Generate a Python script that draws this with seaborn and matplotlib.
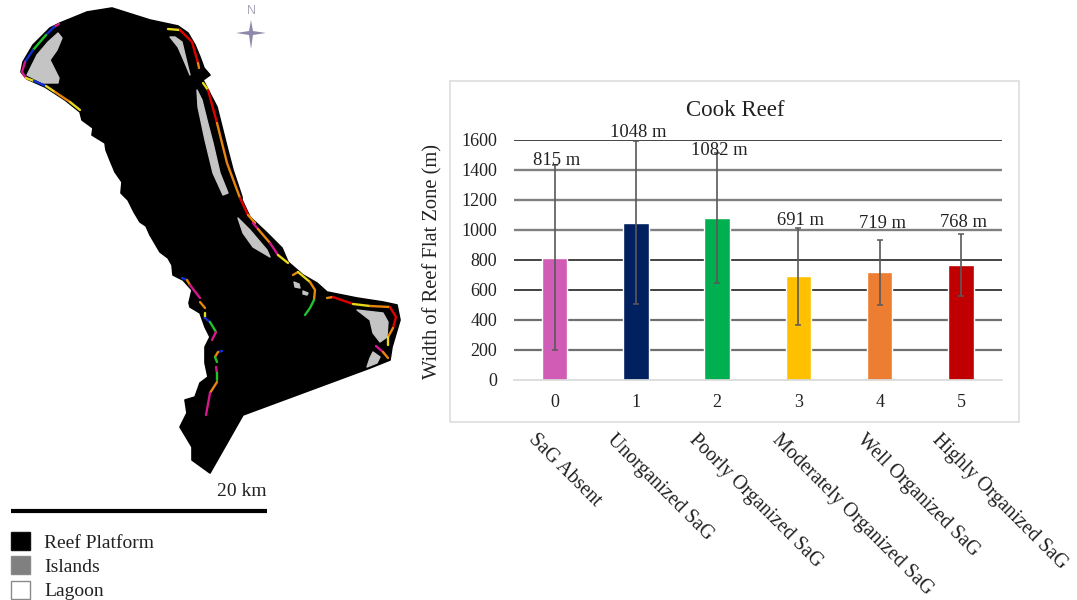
import matplotlib
matplotlib.use("Agg")
import matplotlib.pyplot as plt
from matplotlib.patches import Polygon, Rectangle
import numpy as np
import pandas as pd
import seaborn as sns

sns.set_theme(style="white")
plt.rcParams['font.family'] = ['Liberation Serif', 'DejaVu Serif']

# ---- chart data ----
levels = ["0", "1", "2", "3", "4", "5"]
names = ["SaG Absent", "Unorganized SaG", "Poorly Organized SaG",
         "Moderately Organized SaG", "Well Organized SaG", "Highly Organized SaG"]
widths = [815, 1048, 1082, 691, 719, 768]
err_low = [200, 505, 650, 365, 500, 560]
err_high = [1430, 1590, 1510, 1015, 935, 975]
bar_colors = ["#D05CB5", "#002060", "#00B050", "#FFC000", "#ED7D31", "#C00000"]
label_heights = [1461, 1653, 1528, 1061, 1041, 1048]
grid_values = [1600, 1400, 1200, 1000, 800, 600, 400, 200]
grid_colors = ["#111111", "#808080", "#808080", "#808080", "#111111", "#333333", "#707070", "#707070"]
grid_widths = [1.1, 1.7, 1.7, 1.7, 1.1, 1.3, 1.6, 1.6]
name_anchor_x = [531, 610, 692, 775, 860, 935]

# ---- map outlines, in picture pixels ----
platform = [(112,8),(87,12),(60,23),(50,28),(33,45),(23,62),(21,72),(27,79),(45,87),(65,100),(80,112),
            (82,120),(93,128),(92,135),(105,143),(106,150),(110,160),(115,172),(122,182),(121,193),(128,200),
            (134,212),(140,222),(146,226),(150,235),(160,252),(168,258),(172,265),(173,275),(183,280),(192,290),
            (189,303),(190,307),(200,313),(205,327),(210,337),(205,347),(205,363),(208,377),(200,383),(195,397),
            (185,400),(187,413),(180,427),(192,447),(192,460),(210,473),(243,415),(370,368),(390,360),(392,347),
            (400,320),(397,305),(383,302),(357,298),(327,292),(317,283),(303,275),(288,262),(282,248),(267,233),
            (250,217),(242,200),(242,197),(233,170),(227,147),(217,107),(203,80),(210,75),(204,68),(200,57),
            (195,45),(188,33),(178,26),(150,20)]
islands = [
    [(58,33),(62,38),(57,50),(50,60),(59,78),(58,83),(43,83),(27,75),(37,55),(48,42)],
    [(170,37),(175,37),(182,42),(187,63),(190,75),(185,63),(178,47)],
    [(197,90),(202,100),(207,120),(213,143),(220,173),(228,193),(223,195),(213,173),(205,140),(198,107)],
    [(238,218),(250,230),(267,250),(270,257),(253,247),(243,233)],
    [(357,310),(383,313),(388,322),(387,337),(380,342),(373,333),(370,320)],
    [(373,352),(380,357),(377,363),(367,367),(370,358)],
    [(294,282),(299,284),(300,288),(295,287)],
    [(303,291),(308,293),(307,295),(303,294)],
]
RED, ORANGE, YELLOW, MAGENTA, GREEN, BLUE = "#E00000", "#E8860C", "#E8D81A", "#D6178C", "#22C32A", "#1030D0"
reef_lines = [
    (MAGENTA, [(59,24),(54,27)]), (BLUE, [(54,27),(46,35)]), (GREEN, [(46,35),(33,50)]),
    (BLUE, [(33,50),(25,62)]), (MAGENTA, [(25,62),(22,72),(26,78)]), (YELLOW, [(26,78),(34,81)]),
    (BLUE, [(34,81),(46,86)]), (YELLOW, [(46,86),(55,92)]), (ORANGE, [(55,92),(70,102)]),
    (YELLOW, [(70,102),(80,110)]),
    (YELLOW, [(168,29),(180,30)]), (RED, [(180,30),(192,42),(198,63)]), (ORANGE, [(198,63),(199,68)]),
    (YELLOW, [(203,83),(208,90)]), (RED, [(208,90),(217,123)]), (ORANGE, [(217,123),(227,163),(240,198)]),
    (RED, [(240,198),(248,215)]), (ORANGE, [(248,215),(255,223)]), (MAGENTA, [(253,223),(258,229)]),
    (ORANGE, [(258,229),(270,243)]), (MAGENTA, [(270,243),(278,255)]), (YELLOW, [(278,255),(288,263)]),
    (ORANGE, [(293,275),(298,272)]), (YELLOW, [(298,272),(310,282)]), (ORANGE, [(310,282),(315,290),(314,300)]),
    (GREEN, [(314,300),(310,308),(305,315)]),
    (ORANGE, [(327,298),(333,297)]), (RED, [(333,297),(353,304)]), (YELLOW, [(353,304),(370,306)]),
    (ORANGE, [(370,306),(390,307)]), (RED, [(390,307),(396,317),(393,328)]), (ORANGE, [(393,328),(388,337)]),
    (YELLOW, [(388,337),(388,345)]), (MAGENTA, [(376,346),(383,352)]), (ORANGE, [(383,352),(388,358)]),
    (BLUE, [(182,278),(187,280)]), (ORANGE, [(187,280),(190,285)]), (MAGENTA, [(190,285),(200,298)]),
    (ORANGE, [(200,302),(205,308)]), (YELLOW, [(205,313),(205,318)]), (BLUE, [(205,318),(210,322)]),
    (GREEN, [(210,322),(216,332)]), (MAGENTA, [(216,332),(212,340)]),
    (BLUE, [(222,351),(218,352)]), (ORANGE, [(218,352),(215,357)]), (GREEN, [(215,357),(217,362)]),
    (MAGENTA, [(216,367),(217,373)]), (GREEN, [(217,373),(217,380)]), (ORANGE, [(217,382),(210,393)]),
    (MAGENTA, [(210,393),(206,415)]),
]
star = [(251,20),(253,31),(266,33),(253,35),(251,49),(249,35),(236,33),(249,31)]
legend_names = ["Reef Platform", "Islands", "Lagoon"]
legend_fills = ["#000000", "#808080", "#ffffff"]
legend_edges = ["#111111", "#8a8a8a", "#8a8a8a"]

# ---- figure ----
fig = plt.figure(figsize=(10.77, 6), dpi=100, facecolor="white")
W, H = 1077, 600

# pixel layer for the map, legend and chart frame
bg = fig.add_axes([0, 0, 1, 1])
bg.set_xlim(0, W); bg.set_ylim(H, 0); bg.axis("off")
bg.add_patch(Polygon(platform, closed=True, fc="black", ec="black", lw=1.2, joinstyle="round"))
for isl in islands:
    bg.add_patch(Polygon(isl, closed=True, fc="#C4C4C4", ec="#C4C4C4", lw=1.0, joinstyle="round"))
for col, pts in reef_lines:
    xs, ys = zip(*pts)
    bg.plot(xs, ys, color=col, lw=1.7, solid_capstyle="round")
bg.add_patch(Polygon(star, closed=True, fc="#8F88AB", ec="none"))
bg.text(251, 11, "N", color="#A9A9B5", fontsize=9, ha="center", va="center", family="Liberation Sans")
bg.plot([11, 267], [511, 511], color="black", lw=3, solid_capstyle="butt")
bg.text(267, 492, "20 km", fontsize=14, color="#222222", ha="right", va="center")
for i, (nm, fc, ec) in enumerate(zip(legend_names, legend_fills, legend_edges)):
    top = [532, 556, 581][i]
    bg.add_patch(Rectangle((11, top), 19, 18, fc=fc, ec=ec, lw=1))
    bg.text(44, top + 11, nm, fontsize=14, color="#222222", ha="left", va="center")
bg.add_patch(Rectangle((450, 81), 569, 341, fc="white", ec="#DDDDDD", lw=1.2))

# bar chart
ax = fig.add_axes([514 / W, 1 - 380 / H, (1001.5 - 514) / W, 240 / H])
ax.patch.set_alpha(0)
for v, c, lw in zip(grid_values, grid_colors, grid_widths):
    ax.axhline(v, color=c, lw=lw, zorder=0)
df = pd.DataFrame({"level": levels, "width": widths})
sns.barplot(data=df, x="level", y="width", hue="level", palette=bar_colors, legend=False,
            width=0.315, saturation=1, ax=ax, zorder=2)
pos = np.arange(len(levels))
ax.errorbar(pos, widths,
            yerr=[np.array(widths) - np.array(err_low), np.array(err_high) - np.array(widths)],
            fmt="none", ecolor="#595959", elinewidth=1.2, capsize=2.5, capthick=1.1, zorder=3)
for p, w, h in zip(pos, widths, label_heights):
    ax.text(p + 0.03, h, f"{w} m", fontsize=13.4, color="#222222", ha="center", va="center",
            zorder=4, clip_on=False)
ax.set_xlim(-0.5, 5.5)
ax.set_ylim(0, 1600)
ax.set_yticks(range(0, 1601, 200))
ax.set_xlabel(""); ax.set_ylabel("")
ax.tick_params(axis="both", labelsize=13, length=0, labelcolor="#222222")
ax.tick_params(axis="x", pad=10)
ax.tick_params(axis="y", pad=12)
for s in ["top", "left", "right"]:
    ax.spines[s].set_visible(False)
ax.spines["bottom"].set_color("#D9D9D9")
fig.text(735 / W, 1 - 110 / H, "Cook Reef", fontsize=16.5, color="#222222", ha="center", va="center")
fig.text(433 / W, 1 - 261 / H, "Width of Reef Flat Zone (m)", rotation=90, fontsize=14.8,
         color="#222222", ha="center", va="center")
for nm, x0 in zip(names, name_anchor_x):
    fig.text(x0 / W, 1 - 437 / H, nm, rotation=-45, rotation_mode="anchor",
             ha="left", va="center", fontsize=14.3, color="#222222")

fig.savefig("out.png", dpi=100)
